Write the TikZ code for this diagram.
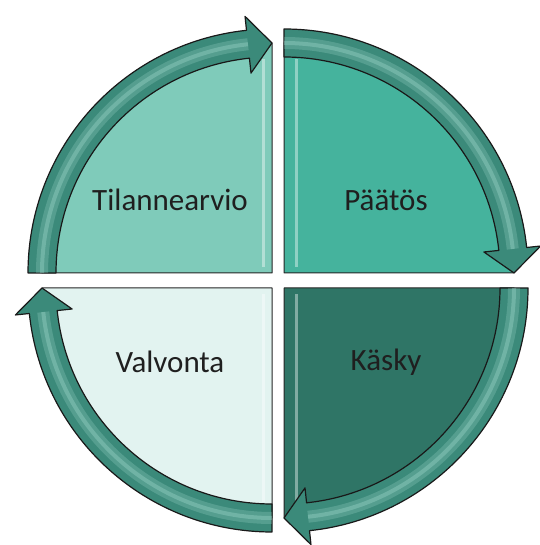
\documentclass[tikz,border=0pt]{standalone}
\usepackage{fontspec}
\setmainfont{Carlito}
\usetikzlibrary{calc}
\definecolor{quadA}{HTML}{7FCBBA}
\definecolor{quadB}{HTML}{45B39D}
\definecolor{quadC}{HTML}{2F7566}
\definecolor{quadD}{HTML}{E2F3F0}
\definecolor{bandteal}{HTML}{3B8A7A}
\definecolor{bandlight}{HTML}{A3DCD0}
\tikzset{
  sector/.style    = {draw=black!85, line width=1pt, line join=round},
  band/.style      = {draw=black!90, line width=1.2pt, fill=bandteal, line join=round},
  bandgloss/.style = {bandlight, line width=12pt, opacity=0.25},
  bandshine/.style = {bandlight, line width=4pt, opacity=0.35},
  bevel/.style     = {white, line width=3pt, opacity=0.4},
  quadlab/.style   = {font=\fontsize{31}{37}\selectfont, text=black!88, inner sep=0pt},
}
\def\Rin{216}
\def\Rout{244}
\def\Rmid{230}
\newcommand{\quadsector}[3]{%
  \pgfmathsetmacro\secEnd{#2-90}%
  \draw[sector, fill=#3] (#1) -- ($(#1)+(#2:\Rmid)$)
    arc[start angle=#2, end angle=\secEnd, radius=\Rmid pt] -- cycle;
}
\newcommand{\quadband}[2]{%
  \pgfmathsetmacro\bandEnd{#2-90}%
  \pgfmathsetmacro\bandBase{#2-84}%
  \draw[band] ($(#1)+(#2:\Rin)$) -- ($(#1)+(#2:\Rout)$)
    arc[start angle=#2, end angle=\bandBase, radius=\Rout pt]
    -- ($(#1)+(\bandBase:258)$) -- ($(#1)+(\bandEnd:\Rmid)$)
    -- ($(#1)+(\bandBase:201)$) -- ($(#1)+(\bandBase:\Rin)$)
    arc[start angle=\bandBase, end angle=#2, radius=\Rin pt] -- cycle;
  \draw[bandgloss] ($(#1)+(#2:\Rmid)$)
    arc[start angle=#2, end angle=\bandBase, radius=\Rmid pt];
  \draw[bandshine] ($(#1)+(#2:\Rmid)$)
    arc[start angle=#2, end angle=\bandBase, radius=\Rmid pt];
}

\begin{document}
\begin{tikzpicture}[x=1pt, y=1pt]
  \useasboundingbox (0,0) rectangle (539,545);

  \coordinate (ctl) at (272,272);
  \coordinate (ctr) at (284,272);
  \coordinate (cbr) at (284,257);
  \coordinate (cbl) at (272,257);

  \quadsector{ctl}{180}{quadA}
  \quadsector{ctr}{90}{quadB}
  \quadsector{cbr}{0}{quadC}
  \quadsector{cbl}{270}{quadD}

  \draw[bevel] ($(ctl)+(-9,6)$)  -- ($(ctl)+(-9,214)$);
  \draw[bevel] ($(ctr)+(12,6)$)  -- ($(ctr)+(12,214)$);
  \draw[bevel] ($(cbr)+(12,-6)$) -- ($(cbr)+(12,-214)$);
  \draw[bevel] ($(cbl)+(-9,-6)$) -- ($(cbl)+(-9,-214)$);

  \quadband{ctl}{180}
  \quadband{ctr}{90}
  \quadband{cbr}{0}
  \quadband{cbl}{270}

  \node[quadlab] (tilanne) at ($(ctl)+(-102,73)$)  {Tilannearvio};
  \node[quadlab] (paatos)  at ($(ctr)+(102,73)$)   {Päätös};
  \node[quadlab] (kasky)   at ($(cbr)+(102,-74)$)  {Käsky};
  \node[quadlab] (valvon)  at ($(cbl)+(-102,-74)$) {Valvonta};
\end{tikzpicture}
\end{document}
